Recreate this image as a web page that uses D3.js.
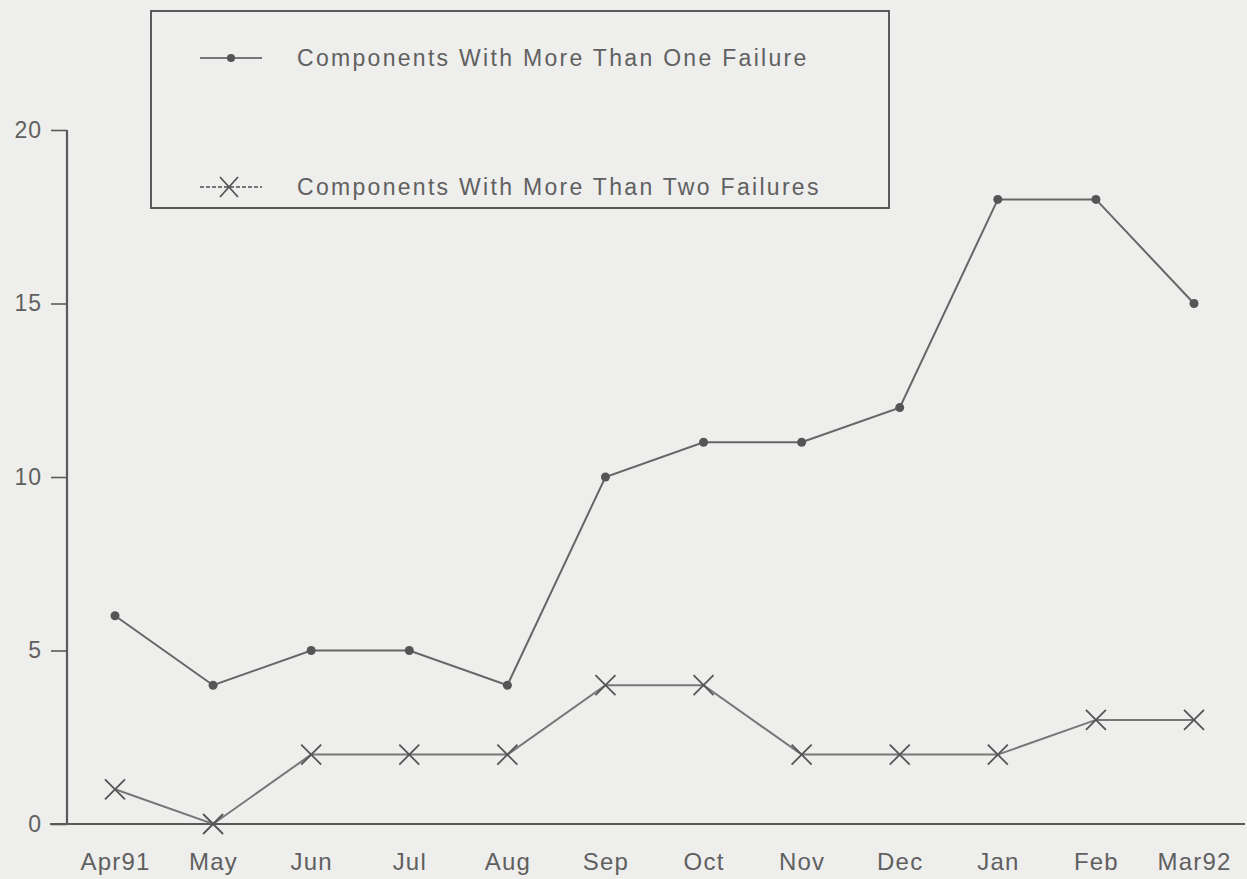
<!DOCTYPE html>
<html>
<head>
<meta charset="utf-8">
<script src="https://cdn.jsdelivr.net/npm/d3@7"></script>
<style>
  body { margin: 0; background: #eeeeec; }
  svg { display: block; }
</style>
</head>
<body>
<svg id="chart"></svg>
<script>
const months = ["Apr91", "May", "Jun", "Jul", "Aug", "Sep", "Oct", "Nov", "Dec", "Jan", "Feb", "Mar92"];
const moreThanOne = [6, 4, 5, 5, 4, 10, 11, 11, 12, 18, 18, 15];
const moreThanTwo = [1, 0, 2, 2, 2, 4, 4, 2, 2, 2, 3, 3];
const yTicks = [0, 5, 10, 15, 20];
const labelOne = "Components With More Than One Failure";
const labelTwo = "Components With More Than Two Failures";

const width = 1247, height = 879;
const ink = "#5a5a5a";
const textInk = "#606060";
const font = "'Liberation Sans', Arial, sans-serif";

const svg = d3.select("#chart")
  .attr("width", width)
  .attr("height", height)
  .style("font-family", font);

const x = d3.scalePoint().domain(months).range([115, 1194]);
const y = d3.scaleLinear().domain([0, 20]).range([824, 130]);

// y axis
const yAxis = svg.append("g")
  .attr("transform", "translate(67,0)")
  .call(d3.axisLeft(y).tickValues(yTicks).tickSize(16).tickPadding(9));
yAxis.select(".domain").attr("stroke", ink).attr("stroke-width", 2.2).attr("d", `M0,${y(20)}V${y(0)}`);
yAxis.selectAll(".tick line").attr("stroke", ink).attr("stroke-width", 1.6);
yAxis.selectAll(".tick text")
  .attr("fill", textInk)
  .style("font-size", "23px")
  .style("font-family", font)
  .style("letter-spacing", "1px");

// x axis
const xAxis = svg.append("g")
  .attr("transform", `translate(0,${y(0)})`)
  .call(d3.axisBottom(x).tickSize(0).tickPadding(29));
xAxis.select(".domain").attr("stroke", ink).attr("stroke-width", 2.2).attr("d", "M50,0H1245");
xAxis.selectAll(".tick text")
  .attr("fill", textInk)
  .style("font-size", "24px")
  .style("font-family", font)
  .style("letter-spacing", "1.2px");

const line = d3.line()
  .x((d, i) => x(months[i]))
  .y(d => y(d));

svg.append("path")
  .datum(moreThanOne)
  .attr("fill", "none")
  .attr("stroke", "#666")
  .attr("stroke-width", 2)
  .attr("d", line);

svg.append("path")
  .datum(moreThanTwo)
  .attr("fill", "none")
  .attr("stroke", "#777")
  .attr("stroke-width", 2)
  .attr("d", line);

svg.selectAll(".dot")
  .data(moreThanOne)
  .join("circle")
  .attr("class", "dot")
  .attr("cx", (d, i) => x(months[i]))
  .attr("cy", d => y(d))
  .attr("r", 4.5)
  .attr("fill", "#555");

const cross = 10;
svg.selectAll(".cross")
  .data(moreThanTwo)
  .join("path")
  .attr("class", "cross")
  .attr("transform", (d, i) => `translate(${x(months[i])},${y(d)})`)
  .attr("d", `M${-cross},${-cross}L${cross},${cross}M${-cross},${cross}L${cross},${-cross}`)
  .attr("stroke", "#555")
  .attr("stroke-width", 1.8)
  .attr("fill", "none");

// legend
const legend = svg.append("g");
legend.append("rect")
  .attr("x", 151).attr("y", 11)
  .attr("width", 738).attr("height", 197)
  .attr("fill", "none")
  .attr("stroke", ink)
  .attr("stroke-width", 2);

const items = [
  { label: labelOne, y: 58, mark: "dot" },
  { label: labelTwo, y: 187, mark: "cross" }
];
items.forEach(it => {
  legend.append("line")
    .attr("x1", 200).attr("x2", 262)
    .attr("y1", it.y).attr("y2", it.y)
    .attr("stroke", "#777").attr("stroke-width", 2)
    .attr("stroke-dasharray", it.mark === "cross" ? "4 2" : null);
  if (it.mark === "dot") {
    legend.append("circle").attr("cx", 231).attr("cy", it.y).attr("r", 4).attr("fill", "#555");
  } else {
    legend.append("path")
      .attr("transform", `translate(229,${it.y})`)
      .attr("d", "M-9,-10L9,10M-9,10L9,-10")
      .attr("stroke", "#555").attr("stroke-width", 1.8);
  }
  legend.append("text")
    .attr("x", 297).attr("y", it.y + 8)
    .attr("fill", textInk)
    .style("font-size", "23px")
    .style("letter-spacing", "2.3px")
    .text(it.label);
});
</script>
</body>
</html>
